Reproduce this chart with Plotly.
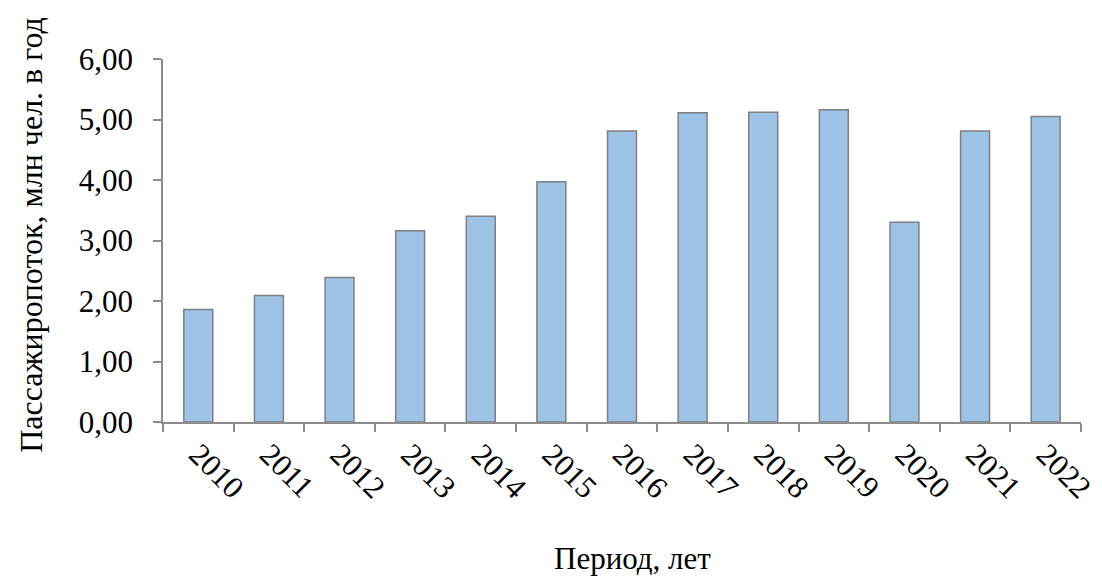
import plotly.graph_objects as go

years = ["2010", "2011", "2012", "2013", "2014", "2015", "2016",
         "2017", "2018", "2019", "2020", "2021", "2022"]
passengers = [1.86, 2.09, 2.39, 3.16, 3.40, 3.97, 4.81,
              5.11, 5.12, 5.16, 3.30, 4.81, 5.05]
y_title = "Пассажиропоток, млн чел. в год"
x_title = "Период, лет"

FONT = "Liberation Serif, Times New Roman, serif"
AX = "#8c8c8c"
OFF = 8  # page body margin

L, R, T, B = 163 - OFF, 1087 - OFF, 59 - OFF, 422 - OFF
W, H = 1102, 576
PW, PH = R - L, B - T

fig = go.Figure(go.Bar(
    x=years, y=passengers,
    marker=dict(color="#9dc3e6", line=dict(color="#808080", width=1.5)),
))

fig.update_layout(
    width=W, height=H,
    margin=dict(l=L, r=W - R, t=T, b=H - B),
    paper_bgcolor="white", plot_bgcolor="white",
    bargap=0.59,
    showlegend=False,
    separators=", ",
    font=dict(family=FONT, size=31, color="black"),
)
fig.update_xaxes(
    type="category",
    showline=True, linecolor=AX, linewidth=1.5,
    ticks="outside", ticklen=8, tickcolor=AX, tickwidth=1.5,
    tickson="boundaries",
    tickangle=45,
    tickfont=dict(family=FONT, size=31),
    showgrid=False, zeroline=False,
)
fig.update_yaxes(
    range=[0, 6], dtick=1, tickformat=".2f",
    showline=True, linecolor=AX, linewidth=1.5,
    ticks="outside", ticklen=8, tickcolor=AX, tickwidth=1.5,
    tickfont=dict(family=FONT, size=31),
    ticklabelstandoff=14,
    showgrid=False, zeroline=False,
)

fig.add_annotation(
    text=y_title, xref="paper", yref="paper",
    x=(30 - OFF - L) / PW, y=(B - (235 - OFF)) / PH,
    textangle=-90, showarrow=False,
    font=dict(family=FONT, size=32), xanchor="center", yanchor="middle",
)
fig.add_annotation(
    text=x_title, xref="paper", yref="paper",
    x=(636 - OFF - L) / PW, y=-((558 - OFF) - B) / PH,
    showarrow=False,
    font=dict(family=FONT, size=31), xanchor="center", yanchor="middle",
)

fig.write_html("out.html")
